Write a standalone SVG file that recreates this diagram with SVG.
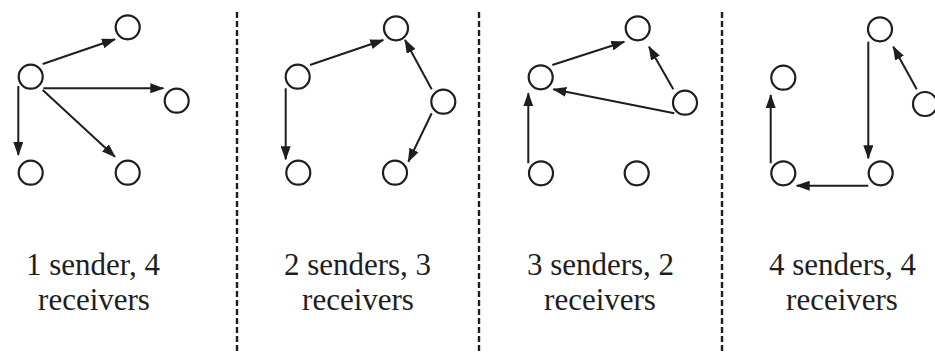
<svg xmlns="http://www.w3.org/2000/svg" width="935" height="354" viewBox="0 0 935 354">
<style>
.n{fill:none;stroke:#1e1e1e;stroke-width:2.2}
.e{stroke:#1e1e1e;stroke-width:2;fill:none;marker-end:url(#ah)}
.d{stroke:#1e1e1e;stroke-width:2.4;stroke-dasharray:6 3}
.t{font-size:31px;fill:#1e1e1e;text-anchor:middle}
</style>
<defs>
<marker id="ah" markerUnits="userSpaceOnUse" viewBox="0 0 14 10" markerWidth="14" markerHeight="10" refX="13" refY="5" orient="auto">
<path d="M0,0 L14,5 L0,10 z" fill="#1e1e1e"/>
</marker>
</defs>
<rect width="935" height="354" fill="#ffffff"/>
<g id="dividers">
<line class="d" x1="237" y1="12" x2="237" y2="354"/>
<line class="d" x1="479" y1="12" x2="479" y2="354"/>
<line class="d" x1="722" y1="12" x2="722" y2="354"/>
</g>
<g id="p1-a"><circle class="n" cx="30.7" cy="76.7" r="12"/></g>
<g id="p1-b"><circle class="n" cx="127.7" cy="27.3" r="12"/></g>
<g id="p1-c"><circle class="n" cx="176.7" cy="100.7" r="12"/></g>
<g id="p1-d"><circle class="n" cx="30.7" cy="172.7" r="12"/></g>
<g id="p1-e"><circle class="n" cx="127.7" cy="172.7" r="12"/></g>
<g id="p2-a"><circle class="n" cx="297.7" cy="76.7" r="12"/></g>
<g id="p2-b"><circle class="n" cx="396" cy="28.3" r="12"/></g>
<g id="p2-c"><circle class="n" cx="443.3" cy="101.7" r="12"/></g>
<g id="p2-d"><circle class="n" cx="298.3" cy="172.7" r="12"/></g>
<g id="p2-e"><circle class="n" cx="395" cy="172.7" r="12"/></g>
<g id="p3-a"><circle class="n" cx="540.7" cy="77.3" r="12"/></g>
<g id="p3-b"><circle class="n" cx="637.7" cy="28.3" r="12"/></g>
<g id="p3-c"><circle class="n" cx="685" cy="102.7" r="12"/></g>
<g id="p3-d"><circle class="n" cx="541" cy="173.3" r="12"/></g>
<g id="p3-e"><circle class="n" cx="636.7" cy="173.3" r="12"/></g>
<g id="p4-a"><circle class="n" cx="783.3" cy="77.7" r="12"/></g>
<g id="p4-b"><circle class="n" cx="880" cy="29.3" r="12"/></g>
<g id="p4-c"><circle class="n" cx="925" cy="104" r="12"/></g>
<g id="p4-d"><circle class="n" cx="783.3" cy="173.3" r="12"/></g>
<g id="p4-e"><circle class="n" cx="880.7" cy="173.3" r="12"/></g>
<g id="connectors">
<line class="e" x1="42.7" y1="64" x2="115" y2="39.3"/>
<line class="e" x1="43.3" y1="88.3" x2="163.3" y2="88.3"/>
<line class="e" x1="42.7" y1="90" x2="115" y2="156.7"/>
<line class="e" x1="18.3" y1="86" x2="18.3" y2="155"/>
<line class="e" x1="310" y1="65" x2="383.3" y2="40"/>
<line class="e" x1="285.7" y1="88.3" x2="285.7" y2="159.3"/>
<line class="e" x1="431.7" y1="89.3" x2="405" y2="40"/>
<line class="e" x1="431.7" y1="113.3" x2="408.3" y2="161.7"/>
<line class="e" x1="552.3" y1="65" x2="624.3" y2="41.7"/>
<line class="e" x1="674.3" y1="113.3" x2="553.3" y2="89.3"/>
<line class="e" x1="673.3" y1="89.3" x2="649" y2="46.7"/>
<line class="e" x1="528.3" y1="163.3" x2="528.3" y2="93.3"/>
<line class="e" x1="868.3" y1="41.7" x2="868.3" y2="158.3"/>
<line class="e" x1="868.3" y1="185.7" x2="796.7" y2="185.7"/>
<line class="e" x1="770.7" y1="163.3" x2="770.7" y2="95"/>
<line class="e" x1="916.7" y1="89.3" x2="893.3" y2="46.7"/>
</g>
<g id="labels" font-family="'Liberation Serif', 'DejaVu Serif', serif">
<text class="t" x="93" y="275">1 sender, 4</text>
<text class="t" x="94" y="310">receivers</text>
<text class="t" x="357.5" y="275">2 senders, 3</text>
<text class="t" x="358" y="310">receivers</text>
<text class="t" x="600.5" y="275">3 senders, 2</text>
<text class="t" x="600" y="310">receivers</text>
<text class="t" x="842.5" y="275">4 senders, 4</text>
<text class="t" x="842" y="310">receivers</text>
</g>
</svg>
